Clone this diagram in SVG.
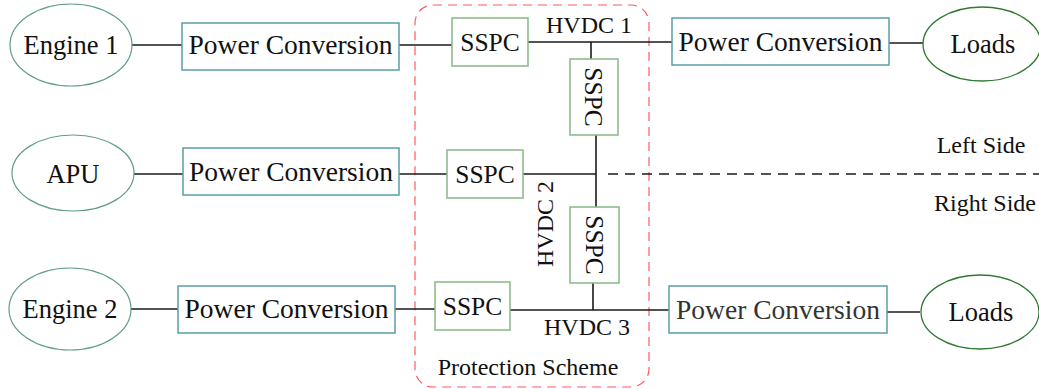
<svg xmlns="http://www.w3.org/2000/svg" width="1039" height="389" viewBox="0 0 1039 389">
  <style>
    text { font-family: "Liberation Serif", "Times New Roman", serif; fill: #111; text-anchor: middle; }
    .big { font-size: 26.5px; }
    .pc { font-size: 27.5px; }
    .ss { font-size: 25.5px; }
    .small { font-size: 24px; }
    .src { fill: #fff; stroke: #5f9c8f; stroke-width: 1.2; }
    .load { fill: #fff; stroke: #2f7a30; stroke-width: 1.3; }
    .conv { fill: #fff; stroke: #5a9fa8; stroke-width: 1.5; }
    .sspc { fill: #fff; stroke: #86b886; stroke-width: 1.5; }
    .wire { stroke: #1a1a1a; stroke-width: 1.6; fill: none; }
    .split { stroke: #1a1a1a; stroke-width: 1.6; stroke-dasharray: 10 7; fill: none; }
    .zone { fill: none; stroke: #ff5a5a; stroke-width: 1.2; stroke-dasharray: 9 6; }
  </style>
  <rect width="1039" height="389" fill="#fff"/>

  <!-- protection boundary -->
  <rect id="protection-zone" class="zone" x="415" y="5" width="234" height="382" rx="18" ry="18"/>

  <!-- connectors -->
  <g id="connectors">
    <line class="wire" x1="132" y1="45" x2="182" y2="45"/>
    <line class="wire" x1="399" y1="45" x2="452" y2="45"/>
    <line class="wire" x1="528" y1="42" x2="672" y2="42"/>
    <line class="wire" x1="591" y1="42" x2="591" y2="59"/>
    <line class="wire" x1="889" y1="43" x2="923" y2="43"/>

    <line class="wire" x1="134" y1="174" x2="183" y2="174"/>
    <line class="wire" x1="399" y1="174" x2="447" y2="174"/>
    <line class="wire" x1="523" y1="174" x2="596" y2="174"/>
    <line class="wire" x1="596" y1="135" x2="596" y2="207"/>
    <line class="split" x1="608" y1="174" x2="1039" y2="174"/>

    <line class="wire" x1="131" y1="309" x2="178" y2="309"/>
    <line class="wire" x1="395" y1="309" x2="435" y2="309"/>
    <line class="wire" x1="510" y1="310" x2="669" y2="310"/>
    <line class="wire" x1="593" y1="283" x2="593" y2="310"/>
    <line class="wire" x1="887" y1="312" x2="920" y2="312"/>
  </g>

  <!-- top feeder -->
  <g id="engine-1">
    <ellipse class="src" cx="71" cy="45" rx="61" ry="41"/>
    <text class="big" x="71" y="54">Engine 1</text>
  </g>
  <g id="conv-1">
    <rect class="conv" x="182" y="23" width="217" height="47"/>
    <text class="pc" x="290.5" y="54">Power Conversion</text>
  </g>
  <g id="sspc-1">
    <rect class="sspc" x="452" y="18" width="76" height="48"/>
    <text class="ss" x="490" y="51">SSPC</text>
  </g>
  <g id="sspc-1v">
    <rect class="sspc" x="570" y="59" width="48" height="76"/>
    <text class="ss" transform="translate(585 97) rotate(90)" x="0" y="0">SSPC</text>
  </g>
  <g id="conv-1r">
    <rect class="conv" x="672" y="18" width="217" height="47"/>
    <text class="pc" x="780.5" y="51">Power Conversion</text>
  </g>
  <g id="loads-1">
    <ellipse class="load" cx="982" cy="44" rx="59" ry="37"/>
    <text class="big" x="983" y="53">Loads</text>
  </g>
  <text id="hvdc-1" class="small" x="589" y="33">HVDC 1</text>

  <!-- APU feeder -->
  <g id="apu">
    <ellipse class="src" cx="73" cy="173" rx="61" ry="38"/>
    <text class="big" x="73" y="183">APU</text>
  </g>
  <g id="conv-2">
    <rect class="conv" x="183" y="148" width="216" height="47"/>
    <text class="pc" x="291" y="181">Power Conversion</text>
  </g>
  <g id="sspc-2">
    <rect class="sspc" x="447" y="150" width="76" height="48"/>
    <text class="ss" x="485" y="183">SSPC</text>
  </g>
  <text id="hvdc-2" class="small" transform="translate(553 224) rotate(-90)" x="0" y="0">HVDC 2</text>
  <g id="sspc-2v">
    <rect class="sspc" x="570" y="207" width="49" height="76"/>
    <text class="ss" transform="translate(586 245) rotate(90)" x="0" y="0">SSPC</text>
  </g>
  <text id="left-side" class="small" x="981" y="153">Left Side</text>
  <text id="right-side" class="small" x="985" y="211">Right Side</text>

  <!-- bottom feeder -->
  <g id="engine-2">
    <ellipse class="src" cx="70" cy="309" rx="61" ry="41"/>
    <text class="big" x="70" y="318">Engine 2</text>
  </g>
  <g id="conv-3">
    <rect class="conv" x="178" y="286" width="217" height="47"/>
    <text class="pc" x="286.5" y="318">Power Conversion</text>
  </g>
  <g id="sspc-3">
    <rect class="sspc" x="435" y="282" width="75" height="48"/>
    <text class="ss" x="472.5" y="315">SSPC</text>
  </g>
  <g id="conv-3r">
    <rect class="conv" x="669" y="286" width="218" height="47"/>
    <text class="pc" x="778" y="319" style="fill:#333">Power Conversion</text>
  </g>
  <g id="loads-2">
    <ellipse class="load" cx="980" cy="312" rx="59" ry="37"/>
    <text class="big" x="981" y="321">Loads</text>
  </g>
  <text id="hvdc-3" class="small" x="587" y="335">HVDC 3</text>
  <text id="zone-label" class="small" x="528" y="375">Protection Scheme</text>
</svg>
